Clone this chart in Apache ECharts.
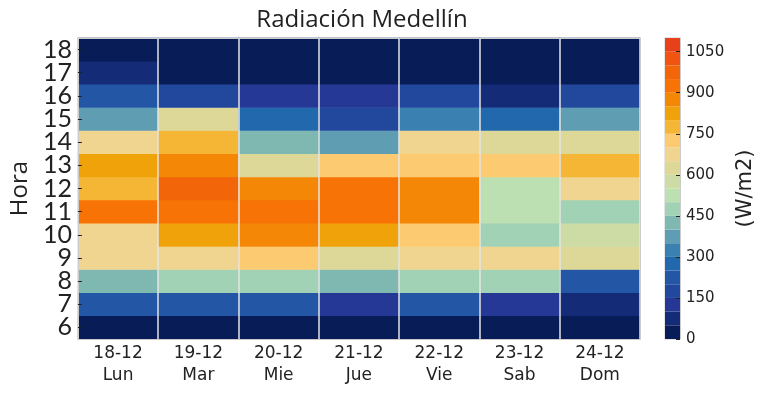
<!DOCTYPE html>
<html>
<head>
<meta charset="utf-8">
<script src="https://cdn.jsdelivr.net/npm/echarts@6/dist/echarts.min.js"></script>
<style>html,body{margin:0;padding:0;background:#fff}#c{width:767px;height:395px}</style>
</head>
<body>
<div id="c"></div>
<script>
// Categories
const days = ['18-12\nLun', '19-12\nMar', '20-12\nMie', '21-12\nJue', '22-12\nVie', '23-12\nSab', '24-12\nDom'];
const hours = ['6', '7', '8', '9', '10', '11', '12', '13', '14', '15', '16', '17', '18'];
// Radiation (W/m2) per day, hours 6..18
const lun = [25, 225, 425, 675, 675, 925, 775, 825, 675, 375, 225, 75, 25];
const mar = [25, 225, 475, 675, 825, 925, 975, 875, 775, 625, 175, 25, 25];
const mie = [25, 225, 475, 725, 875, 925, 875, 625, 425, 275, 125, 25, 25];
const jue = [25, 125, 425, 625, 825, 925, 925, 725, 375, 175, 125, 25, 25];
const vie = [25, 225, 475, 675, 725, 875, 875, 725, 675, 325, 175, 25, 25];
const sab = [25, 125, 475, 675, 475, 525, 525, 725, 625, 275, 75, 25, 25];
const dom = [25, 75, 225, 625, 575, 475, 675, 775, 625, 375, 175, 25, 25];
// Colour scale levels (step 50, 0..1100)
const levelStep = 50;
const levelColors = ['#081d58', '#142b77', '#253895', '#22489d', '#2357a5', '#2168ad', '#3a80b0', '#5f9db3',
  '#7fb8b0', '#a2d2b5', '#bde0b2', '#cddba4', '#ded898', '#efd590', '#fcca70', '#f5b535',
  '#f0a20a', '#f48806', '#f77305', '#f26508', '#ef5510', '#e8401a'];

const cols = [lun, mar, mie, jue, vie, sab, dom];
const heat = [];
cols.forEach((arr, x) => arr.forEach((v, y) => heat.push([x, y, v])));
const pieces = levelColors.map((c, i) => ({ gte: i * levelStep, lt: (i + 1) * levelStep, color: c }));
const cbSeries = levelColors.map(c => ({
  type: 'bar', xAxisIndex: 2, yAxisIndex: 2, stack: 'cb', data: [levelStep], barWidth: '100%',
  itemStyle: { color: c }, silent: true, animation: false
}));

const chart = echarts.init(document.getElementById('c'), null, { renderer: 'canvas' });
chart.setOption({
  animation: false,
  title: {
    text: 'Radiación Medellín', left: 357, top: 3, textAlign: 'center',
    textStyle: { fontFamily: 'Open Sans', fontSize: 24, fontWeight: 'normal', color: '#222' }
  },
  grid: [
    { left: 73, top: 38, width: 567, height: 301 },
    { left: 665, top: 38, width: 15, height: 301, show: true, borderColor: '#ccc', borderWidth: 1 }
  ],
  visualMap: { type: 'piecewise', show: false, seriesIndex: 0, pieces: pieces },
  xAxis: [
    {
      type: 'category', data: days, gridIndex: 0, z: 10,
      axisLine: { lineStyle: { color: '#ccc' } },
      axisTick: { inside: true, alignWithLabel: true, length: 4, lineStyle: { color: '#222' } },
      axisLabel: { fontFamily: 'DejaVu Sans', fontSize: 17, color: '#222', lineHeight: 22, margin: 4 },
      splitLine: { show: false }
    },
    {
      type: 'value', gridIndex: 0, min: 0, max: 7, interval: 1, position: 'top', z: 10,
      axisLine: { show: true, lineStyle: { color: '#ccc' } },
      axisTick: { show: false }, axisLabel: { show: false },
      splitLine: { show: true, lineStyle: { color: '#e4e4e4', width: 1.5 } }
    },
    { type: 'category', data: [''], gridIndex: 1, show: false }
  ],
  yAxis: [
    {
      type: 'category', data: hours, gridIndex: 0, z: 10,
      name: 'Hora', nameLocation: 'middle', nameGap: 42, nameRotate: 90,
      nameTextStyle: { fontFamily: 'Open Sans', fontSize: 24, color: '#222' },
      axisLine: { show: true, lineStyle: { color: '#ccc' } },
      axisTick: { show: true, inside: true, alignWithLabel: true, length: 4, interval: 0, lineStyle: { color: '#222' } },
      axisLabel: { fontFamily: 'Lato', fontSize: 25, color: '#222', margin: 6, interval: 0 },
      splitLine: { show: false }
    },
    {
      type: 'value', gridIndex: 0, min: 0, max: 13, position: 'right', z: 10,
      axisLine: { show: true, lineStyle: { color: '#ccc' } },
      axisTick: { show: false }, axisLabel: { show: false }, splitLine: { show: false }
    },
    {
      type: 'value', gridIndex: 1, min: 0, max: 1100, interval: 150, position: 'right', z: 10,
      name: '(W/m2)', nameLocation: 'middle', nameGap: 55, nameRotate: 90,
      nameTextStyle: { fontFamily: 'DejaVu Sans', fontSize: 21, color: '#222' },
      axisLine: { show: true, lineStyle: { color: '#ccc' } },
      axisTick: { show: true, inside: true, length: 4, lineStyle: { color: '#222' } },
      axisLabel: { fontFamily: 'DejaVu Sans', fontSize: 15, color: '#222', margin: 6, showMaxLabel: false,
        formatter: v => String(v) },
      splitLine: { show: false }
    }
  ],
  series: [
    { type: 'heatmap', xAxisIndex: 0, yAxisIndex: 0, data: heat, silent: true }
  ].concat(cbSeries)
});
</script>
</body>
</html>
